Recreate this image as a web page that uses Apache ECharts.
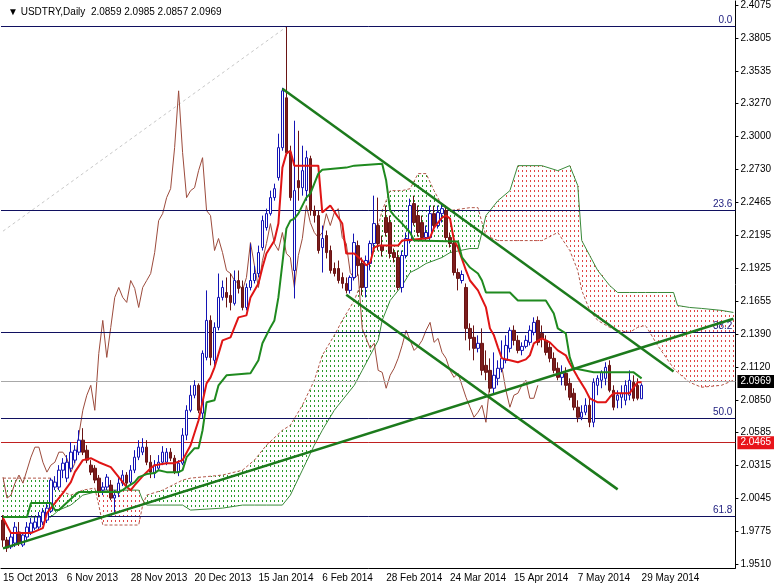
<!DOCTYPE html>
<html><head><meta charset="utf-8">
<script src="https://cdn.jsdelivr.net/npm/echarts@6/dist/echarts.min.js"></script>
<style>html,body{margin:0;padding:0;background:#fff}#c{width:774px;height:584px}</style>
</head><body><div id="c"></div>
<script>
const dateLabels = ['15 Oct 2013','6 Nov 2013','28 Nov 2013','20 Dec 2013','15 Jan 2014','6 Feb 2014','28 Feb 2014','24 Mar 2014','15 Apr 2014','7 May 2014','29 May 2014'];
const yTicks = [1.9510,1.9775,2.0045,2.0315,2.0585,2.0850,2.1120,2.1390,2.1655,2.1925,2.2195,2.2465,2.2730,2.3000,2.3270,2.3535,2.3805,2.4075];

const openP = [1.9868,1.9705,1.9649,1.9681,1.9771,1.9665,1.9730,1.9771,1.9803,1.9811,
1.9852,1.9868,1.9942,2.0138,2.0138,2.0276,2.0211,2.0292,2.0358,2.0423,
2.0521,2.0439,2.0317,2.0292,2.0211,2.0113,2.0138,2.0154,2.0048,2.0089,
2.0170,2.0236,2.0178,2.0276,2.0382,2.0423,2.0464,2.0341,2.0252,2.0292,
2.0341,2.0341,2.0423,2.0374,2.0260,2.0333,2.0562,2.0765,2.0888,2.0969,
2.0741,2.1197,2.1499,2.1173,2.1442,2.1687,2.1727,2.1703,2.1638,2.1825,
2.1768,2.1605,2.1768,2.1825,2.1882,2.2094,2.2257,2.2371,2.2502,2.2665,
2.2910,2.3317,2.2869,2.1907,2.2641,2.2583,2.2559,2.2820,2.2396,2.2355,
2.2094,2.2192,2.2070,2.1923,2.1923,2.1850,2.1801,2.1744,2.1850,2.2110,
2.1964,2.1768,2.1964,2.2127,2.2274,2.2110,2.2339,2.2298,2.2053,2.2013,
2.1768,2.2029,2.2151,2.2453,2.2355,2.2298,2.2176,2.2176,2.2371,2.2274,
2.2371,2.2396,2.2176,2.2127,2.1890,2.1825,2.1768,2.1434,2.1361,2.1271,
2.1312,2.1132,2.1091,2.0945,2.1026,2.1108,2.1173,2.1271,2.1418,2.1336,
2.1254,2.1287,2.1320,2.1401,2.1499,2.1393,2.1336,2.1279,2.1189,2.1108,
2.1034,2.1067,2.0985,2.0904,2.0790,2.0708,2.0749,2.0806,2.0667,2.0969,
2.1010,2.1026,2.1132,2.0928,2.0847,2.0871,2.0847,2.0888,2.0994,2.0969,2.0859];
const closeP = [1.9705,1.9640,1.9730,1.9811,1.9681,1.9746,1.9811,1.9844,1.9852,1.9893,
1.9934,1.9966,2.0195,2.0178,2.0276,2.0333,2.0341,2.0423,2.0439,2.0521,
2.0423,2.0358,2.0260,2.0195,2.0097,2.0138,2.0219,2.0048,2.0072,2.0170,
2.0236,2.0170,2.0276,2.0382,2.0464,2.0464,2.0341,2.0260,2.0317,2.0341,
2.0423,2.0423,2.0374,2.0260,2.0333,2.0562,2.0765,2.0888,2.0969,2.0765,
2.1230,2.1499,2.1197,2.1442,2.1687,2.1768,2.1687,2.1646,2.1825,2.1760,
2.1605,2.1768,2.1825,2.1882,2.2053,2.2314,2.2371,2.2502,2.2575,2.2910,
2.3374,2.2869,2.2502,2.2559,2.2583,2.2722,2.2828,2.2396,2.2355,2.2070,
2.2168,2.2053,2.1907,2.1882,2.1825,2.1801,2.1744,2.1850,2.2135,2.1947,
2.1768,2.1988,2.2127,2.2290,2.2127,2.2070,2.2217,2.2045,2.2013,2.1768,
2.2029,2.2168,2.2437,2.2298,2.2217,2.2176,2.2217,2.2371,2.2274,2.2380,
2.2412,2.2176,2.2127,2.1890,2.1842,2.1874,2.1434,2.1352,2.1271,2.1312,
2.1091,2.1075,2.0945,2.1051,2.1108,2.1189,2.1295,2.1418,2.1336,2.1254,
2.1287,2.1336,2.1418,2.1483,2.1320,2.1352,2.1238,2.1189,2.1091,2.1034,
2.1067,2.0969,2.0871,2.0790,2.0708,2.0749,2.0806,2.0667,2.0994,2.1026,
2.1075,2.1116,2.0928,2.0790,2.0888,2.0904,2.0969,2.1010,2.0863,2.0863,2.0969];
const highP = [1.9909,1.9730,1.9771,1.9852,1.9852,1.9771,1.9852,1.9885,1.9893,1.9934,
1.9966,1.9999,2.0211,2.0227,2.0317,2.0374,2.0399,2.0504,2.0480,2.0602,
2.0619,2.0480,2.0358,2.0317,2.0236,2.0178,2.0244,2.0195,2.0113,2.0211,
2.0276,2.0260,2.0317,2.0439,2.0521,2.0537,2.0521,2.0399,2.0358,2.0399,
2.0472,2.0456,2.0456,2.0399,2.0358,2.0619,2.0806,2.0969,2.1010,2.0985,
2.1254,2.1744,2.1540,2.1483,2.1882,2.1825,2.1850,2.1882,2.1907,2.1907,
2.1825,2.1801,2.2127,2.1947,2.2110,2.2355,2.2412,2.2559,2.2616,2.3024,
2.3399,2.3896,2.2926,2.3130,2.3048,2.2926,2.2885,2.2844,2.2437,2.2396,
2.2274,2.2233,2.2110,2.1972,2.1988,2.1890,2.1850,2.1866,2.2208,2.2151,
2.2013,2.2029,2.2151,2.2518,2.2502,2.2192,2.2437,2.2355,2.2086,2.2070,
2.2070,2.2217,2.2494,2.2518,2.2437,2.2355,2.2274,2.2437,2.2437,2.2437,
2.2453,2.2437,2.2217,2.2168,2.1923,2.1907,2.1801,2.1475,2.1458,2.1377,
2.1434,2.1254,2.1189,2.1238,2.1173,2.1336,2.1377,2.1442,2.1458,2.1377,
2.1320,2.1377,2.1458,2.1524,2.1532,2.1458,2.1377,2.1320,2.1238,2.1157,
2.1132,2.1116,2.1026,2.0945,2.0847,2.0806,2.0863,2.0863,2.1026,2.1051,
2.1091,2.1157,2.1173,2.0969,2.0928,2.0969,2.1010,2.1091,2.1051,2.1026,2.0985];
const lowP = [1.9649,1.9608,1.9632,1.9649,1.9657,1.9649,1.9705,1.9746,1.9787,1.9787,
1.9828,1.9844,1.9926,2.0113,2.0113,2.0211,2.0178,2.0260,2.0333,2.0399,
2.0399,2.0333,2.0236,2.0170,2.0056,2.0072,2.0113,2.0031,1.9934,2.0056,
2.0146,2.0146,2.0154,2.0252,2.0358,2.0399,2.0317,2.0211,2.0211,2.0276,
2.0317,2.0317,2.0350,2.0244,2.0227,2.0317,2.0521,2.0749,2.0863,2.0741,
2.0700,2.1173,2.1132,2.1108,2.1418,2.1662,2.1605,2.1581,2.1621,2.1719,
2.1581,2.1581,2.1744,2.1801,2.1850,2.2070,2.2233,2.2355,2.2477,2.2641,
2.2885,2.2844,2.2477,2.1678,2.2477,2.2518,2.2477,2.2355,2.2298,2.2045,
2.1890,2.2005,2.1882,2.1858,2.1801,2.1760,2.1719,2.1719,2.1825,2.1866,
2.1703,2.1687,2.1907,2.2070,2.2070,2.2021,2.2184,2.2005,2.1972,2.1744,
2.1727,2.2005,2.2127,2.2274,2.2184,2.2151,2.2151,2.2151,2.2249,2.2249,
2.2298,2.2151,2.2094,2.1866,2.1744,2.1801,2.1336,2.1254,2.1173,2.1238,
2.1051,2.1010,2.0912,2.0904,2.0969,2.1075,2.1149,2.1238,2.1295,2.1230,
2.1214,2.1271,2.1295,2.1377,2.1295,2.1279,2.1214,2.1157,2.1067,2.1010,
2.0969,2.0928,2.0847,2.0765,2.0667,2.0684,2.0725,2.0627,2.0627,2.0888,
2.0945,2.0969,2.0912,2.0765,2.0782,2.0782,2.0806,2.0847,2.0839,2.0847,2.0857];

const tenkanIdx = [0,2,7,10,11,13,15,17,18,19,20,22,24,27,29,31,32,33,35,37,38,41,43,45,47,49,51,52,53,55,57,58,59,61,62,64,65,66,68,69,70,71,72,73,79,80,82,84,85,86,88,90,91,92,93,94,99,100,106,107,108,110,111,112,113,114,116,117,119,121,122,123,124,125,127,129,131,132,133,135,137,139,141,142,144,146,147,149,151,152,153,157,158,159,160];
const tenkanVal = [1.9885,1.9762,1.9762,1.9803,1.9926,2.0007,2.0089,2.0178,2.0260,2.0309,2.0358,2.0374,2.0341,2.0301,2.0219,2.0138,2.0113,2.0154,2.0227,2.0292,2.0317,2.0333,2.0333,2.0358,2.0480,2.0684,2.0985,2.1034,2.1116,2.1336,2.1361,2.1442,2.1524,2.1540,2.1687,2.1801,2.1931,2.2045,2.2151,2.2290,2.2747,2.2861,2.2885,2.2763,2.2763,2.2380,2.2437,2.2339,2.2290,2.2045,2.2045,2.1988,2.1948,2.1972,2.2094,2.2110,2.2110,2.2151,2.2168,2.2176,2.2257,2.2339,2.2355,2.2331,2.2151,2.2094,2.1907,2.1825,2.1744,2.1605,2.1434,2.1377,2.1279,2.1189,2.1173,2.1157,2.1181,2.1214,2.1312,2.1352,2.1320,2.1254,2.1214,2.1149,2.1034,2.0928,2.0863,2.0830,2.0830,2.0871,2.0904,2.0904,2.0953,2.0994,2.0994];

const kijunIdx = [0,6,7,12,13,14,18,19,29,30,31,33,34,36,38,39,41,44,45,46,48,49,50,51,53,54,56,62,64,65,67,68,69,70,71,72,73,74,76,77,78,79,80,86,88,95,96,97,98,100,102,103,114,115,116,117,119,120,121,127,129,136,138,139,141,142,143,148,158,160];
const kijunVal = [1.9893,1.9893,2.0007,2.0007,1.9950,1.9950,2.0072,2.0097,2.0097,2.0113,2.0138,2.0178,2.0219,2.0244,2.0252,2.0276,2.0260,2.0260,2.0276,2.0382,2.0456,2.0456,2.0602,2.0830,2.0847,2.0969,2.1051,2.1067,2.1173,2.1312,2.1442,2.1499,2.1687,2.1964,2.2249,2.2314,2.2331,2.2371,2.2502,2.2535,2.2616,2.2698,2.2730,2.2747,2.2763,2.2779,2.2641,2.2396,2.2355,2.2290,2.2217,2.2151,2.2143,2.2013,2.1972,2.1931,2.1882,2.1825,2.1727,2.1727,2.1662,2.1662,2.1556,2.1434,2.1393,2.1197,2.1108,2.1075,2.1075,2.1026];

const cloudIdx = [0,12,14,17,20,23,24,25,34,35,36,40,45,47,55,60,63,66,70,72,75,78,80,83,85,88,90,92,94,95,97,100,102,104,106,108,110,112,117,119,120,121,124,127,129,135,139,142,144,145,147,149,152,154,157,159,161,164,168,169,172,175,180,183];
const spanA = [2.0211,2.0211,2.0113,2.0072,2.0113,2.0130,1.9991,1.9828,1.9828,1.9991,
2.0072,2.0113,2.0195,2.0211,2.0236,2.0276,2.0358,2.0480,2.0602,2.0643,
2.0806,2.1010,2.1214,2.1377,2.1499,2.1662,2.1825,2.2029,2.2274,2.2396,
2.2559,2.2559,2.2575,2.2698,2.2698,2.2559,2.2437,2.2396,2.2420,2.2420,
2.2298,2.2192,2.2151,2.2151,2.2151,2.2151,2.2217,2.2070,2.1907,2.1744,
2.1581,2.1499,2.1442,2.1418,2.1401,2.1442,2.1458,2.1295,2.1108,2.1075,
2.0994,2.0953,2.0969,2.1010];
const spanB = [1.9893,1.9893,1.9950,1.9991,2.0072,2.0097,2.0113,2.0113,2.0113,2.0031,
1.9991,1.9991,1.9991,1.9950,1.9966,1.9991,1.9991,1.9991,1.9991,2.0072,
2.0276,2.0480,2.0602,2.0765,2.0847,2.0969,2.1091,2.1214,2.1336,2.1499,
2.1662,2.1784,2.1890,2.1923,2.1964,2.1988,2.2013,2.2053,2.2086,2.2086,
2.2217,2.2355,2.2477,2.2559,2.2763,2.2763,2.2722,2.2763,2.2600,2.2151,
2.2029,2.1907,2.1784,2.1727,2.1727,2.1727,2.1727,2.1727,2.1727,2.1621,
2.1605,2.1597,2.1581,2.1564];

const chikouShift = 26;
const fibNames = ['0.0','23.6','38.2','50.0','61.8'];
const fibValues = [2.3896,2.2379,2.1442,2.0675,1.9917];
const lastPrice = 2.0969;
const alertPrice = 2.0465;
const trendUpper = [[70,2.3391],[168,2.1081]];
const trendLower = [[86,2.1708],[154,2.0119]];
const trendRising = [[0,1.9637],[183,2.1513]];
const fibDiag = [[0,2.2228],[71,2.3896]];
const nCats = 184;

const categories = Array.from({length:nCats}, (_, i) => String(i));
const candles = openP.map((o, i) => [o, closeP[i], lowP[i], highP[i]]);
const chikou = closeP.slice(chikouShift).map((c, k) => [k, c]);
const pairs = (xs, ys) => xs.map((x, k) => [x, ys[k]]);

const UP_HATCH = '#2a9a2a', DN_HATCH = '#e04646';
// Cloud drawn like MT4's histogram: one dotted vertical stroke per bar between Span A and Span B
function renderCloud(params, api){
  const k = params.dataIndex;
  if (k >= cloudIdx.length - 1) return null;
  const i0 = cloudIdx[k], i1 = cloudIdx[k+1];
  const a0 = api.coord([i0, spanA[k]]), b0 = api.coord([i0, spanB[k]]);
  const a1 = api.coord([i1, spanA[k+1]]), b1 = api.coord([i1, spanB[k+1]]);
  const last = (k === cloudIdx.length - 2);
  const children = [];
  for (let j = i0; j < i1 || (last && j === i1); j++){
    const t = (j - i0) / (i1 - i0);
    const x = Math.round(api.coord([j, spanA[k]])[0]) + 0.5;
    const ya = a0[1] + t * (a1[1] - a0[1]);
    const yb = b0[1] + t * (b1[1] - b0[1]);
    const top = Math.min(ya, yb), bot = Math.max(ya, yb);
    if (bot - top < 0.5) continue;
    children.push({type:'line', shape:{x1:x, y1:Math.round(top), x2:x, y2:Math.round(bot)},
      style:{stroke: ya < yb ? UP_HATCH : DN_HATCH, lineWidth:1, lineDash:[2,3], lineDashOffset: Math.round(top) % 5}});
  }
  return {type:'group', children};
}

const font = 'Liberation Sans, Arial, sans-serif';
const chart = echarts.init(document.getElementById('c'), null, {renderer:'canvas'});
chart.setOption({
  animation:false,
  backgroundColor:'#ffffff',
  title:{text:'\u25BC USDTRY,Daily  2.0859 2.0985 2.0857 2.0969', left:3, top:2, textStyle:{fontSize:10, fontWeight:'normal', color:'#000', fontFamily:font}},
  grid:{left:0, right:36, top:0, bottom:16},
  xAxis:{type:'category', data:categories, boundaryGap:true,
    axisLine:{show:true, lineStyle:{color:'#000', width:1}},
    axisTick:{show:false},
    axisLabel:{interval:(i)=> i % 16 === 0 && i/16 < dateLabels.length, formatter:(v, i)=> dateLabels[i/16] || '', align:'left', margin:5, fontSize:10, color:'#000', fontFamily:font},
    splitLine:{show:false}},
  yAxis:{type:'value', position:'right', min:1.9477, max:2.4108, scale:true,
    axisLine:{show:true, lineStyle:{color:'#000', width:1}},
    axisTick:{show:true, length:3, inside:false, customValues:yTicks, lineStyle:{color:'#000'}},
    axisLabel:{customValues:yTicks, formatter:(v)=> v.toFixed(4), margin:5, fontSize:10, color:'#000', fontFamily:font},
    splitLine:{show:false}},
  series:[
    {type:'custom', name:'cloud', renderItem:renderCloud, data:cloudIdx.map((x,k)=>[x, spanA[k], spanB[k]]), encode:{x:0, y:[1,2]}, z:1, silent:true, clip:true},
    {type:'line', name:'spanA', data:pairs(cloudIdx, spanA), showSymbol:false, lineStyle:{color:'#b3584a', width:1, type:[3,2]}, z:2, silent:true},
    {type:'line', name:'spanB', data:pairs(cloudIdx, spanB), showSymbol:false, lineStyle:{color:'#3a8a3a', width:1}, z:2, silent:true},
    {type:'line', name:'levels', data:[], z:3, silent:true,
      markLine:{silent:true, symbol:['none','none'], animation:false,
        data:[
          ...fibValues.map((v,k)=>({yAxis:v, lineStyle:{color:'#101060', width:1, type:'solid'}, label:{show:true, formatter:fibNames[k], position:'insideEndTop', distance:[3,1], color:'#202080', fontSize:10, fontFamily:font}})),
          {yAxis:lastPrice, lineStyle:{color:'#a8a8a8', width:1, type:'solid'}, label:{show:true, formatter:lastPrice.toFixed(4), position:'end', distance:2, backgroundColor:'#000', color:'#fff', padding:[2,3,1,3], fontSize:10, fontFamily:font}},
          {yAxis:alertPrice, lineStyle:{color:'#c02020', width:1, type:'solid'}, label:{show:true, formatter:alertPrice.toFixed(4), position:'end', distance:2, backgroundColor:'#e8141a', color:'#fff', padding:[2,3,1,3], fontSize:10, fontFamily:font}}
        ]}},
    {type:'line', name:'fibDiag', data:fibDiag, showSymbol:false, lineStyle:{color:'#c8c8c8', width:1, type:[3,3]}, z:3, silent:true},
    {type:'line', name:'chikou', data:chikou, showSymbol:false, lineStyle:{color:'#9c4b3c', width:1}, z:4, silent:true},
    {type:'candlestick', name:'USDTRY', data:candles, barWidth:3, z:5, silent:true,
      itemStyle:{color:'#ffffff', color0:'#7c1d1d', borderColor:'#1414b4', borderColor0:'#6a1414', borderWidth:1}},
    {type:'line', name:'tenkan', data:pairs(tenkanIdx, tenkanVal), showSymbol:false, lineStyle:{color:'#e01515', width:2}, z:6, silent:true},
    {type:'line', name:'kijun', data:pairs(kijunIdx, kijunVal), showSymbol:false, lineStyle:{color:'#1f8a1f', width:2}, z:6, silent:true},
    {type:'line', name:'trendUpper', data:trendUpper, showSymbol:false, lineStyle:{color:'#1c7a1c', width:2.5}, z:7, silent:true},
    {type:'line', name:'trendLower', data:trendLower, showSymbol:false, lineStyle:{color:'#1c7a1c', width:2.5}, z:7, silent:true},
    {type:'line', name:'trendRising', data:trendRising, showSymbol:false, lineStyle:{color:'#1c7a1c', width:2.5}, z:7, silent:true}
  ]
});
</script></body></html>
